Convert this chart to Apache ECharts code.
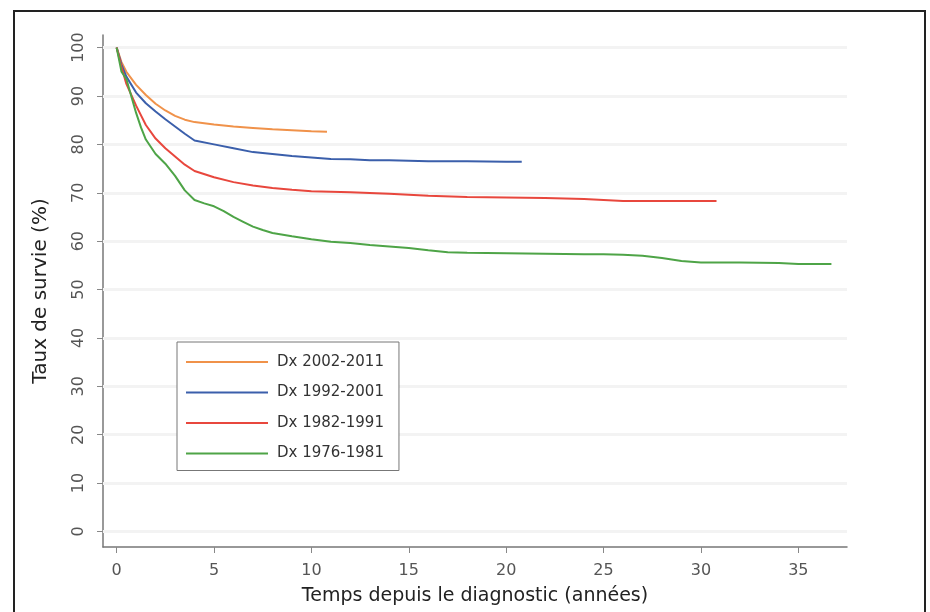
<!DOCTYPE html>
<html>
<head>
<meta charset="utf-8">
<script src="https://cdn.jsdelivr.net/npm/echarts@6/dist/echarts.min.js"></script>
<style>
  html, body { margin: 0; padding: 0; background: #fff; }
  #chart { width: 930px; height: 612px; }
</style>
</head>
<body>
<div id="chart"></div>
<script>
// Courbes de survie par période de diagnostic
const xTicks = [0, 5, 10, 15, 20, 25, 30, 35]
const yTicks = [0, 10, 20, 30, 40, 50, 60, 70, 80, 90, 100]

const t2002 = [0, 0.25, 0.5, 1, 1.5, 2, 2.5, 3, 3.5, 4, 5, 6, 7, 8, 9, 10, 10.8]
const v2002 = [100, 97, 95, 92.3, 90.2, 88.4, 87, 85.9, 85.1, 84.6, 84.1, 83.7, 83.4, 83.1, 82.9, 82.7, 82.6]

const t1992 = [0, 0.25, 0.5, 1, 1.5, 2, 2.5, 3, 3.5, 4, 5, 6, 7, 8, 9, 10, 11, 12, 13, 14, 15, 16, 18, 20, 20.8]
const v1992 = [100, 96.5, 94, 90.7, 88.5, 86.8, 85.2, 83.7, 82.2, 80.8, 80.0, 79.2, 78.4, 78.0, 77.6, 77.3, 77.0, 76.9, 76.7, 76.7, 76.6, 76.5, 76.5, 76.4, 76.4]

const t1982 = [0, 0.25, 0.5, 1, 1.5, 2, 2.5, 3, 3.5, 4, 5, 6, 7, 8, 9, 10, 12, 14, 16, 18, 20, 22, 24, 25, 26, 28, 30, 30.8]
const v1982 = [100, 96, 92.5, 88, 84, 81.2, 79.2, 77.5, 75.8, 74.5, 73.2, 72.2, 71.5, 71.0, 70.6, 70.3, 70.1, 69.8, 69.4, 69.1, 69.0, 68.9, 68.7, 68.5, 68.3, 68.3, 68.3, 68.3]

const t1976 = [0, 0.25, 0.5, 0.75, 1, 1.25, 1.5, 2, 2.5, 3, 3.5, 4, 4.5, 5, 5.5, 6, 6.5, 7, 7.5, 8, 9, 10, 11, 12, 13, 14, 15, 16, 17, 18, 20, 22, 24, 25, 26, 27, 28, 29, 30, 32, 34, 35, 36.7]
const v1976 = [100, 95, 93.5, 90, 86.5, 83.5, 81, 78, 76, 73.5, 70.5, 68.5, 67.8, 67.2, 66.2, 65, 64, 63, 62.3, 61.7, 61, 60.4, 59.9, 59.6, 59.2, 58.9, 58.6, 58.1, 57.7, 57.6, 57.5, 57.4, 57.3, 57.3, 57.2, 57.0, 56.5, 55.9, 55.6, 55.6, 55.5, 55.3, 55.3]

const zip = (t, v) => t.map((x, i) => [x, v[i]])

const curve = (name, t, v, color) => ({
    name: name,
    type: 'line',
    data: zip(t, v),
    symbol: 'none',
    z: 5,
    lineStyle: { color: color, width: 2 },
    itemStyle: { color: color }
})

const chart = echarts.init(document.getElementById('chart'))
const option = {
    animation: false,
    backgroundColor: '#fff',
    graphic: [{
        type: 'rect',
        shape: { x: 14, y: 11, width: 911, height: 640 },
        style: { fill: 'none', stroke: '#222', lineWidth: 2 },
        z: 0
    }],
    grid: { left: 103, right: 83, top: 35, bottom: 65 },
    legend: {
        orient: 'vertical',
        left: 177,
        top: 342,
        icon: 'rect',
        itemWidth: 82,
        itemHeight: 2,
        itemGap: 14.5,
        padding: [12, 15, 9, 9],
        borderColor: '#777',
        borderWidth: 1,
        backgroundColor: '#fff',
        textStyle: {
            fontFamily: 'DejaVu Sans',
            fontSize: 15,
            lineHeight: 16,
            color: '#333',
            padding: [0, 0, 0, 4]
        },
        data: ['Dx 2002-2011', 'Dx 1992-2001', 'Dx 1982-1991', 'Dx 1976-1981'],
        z: 10
    },
    xAxis: {
        type: 'value',
        min: -0.7,
        max: 37.5,
        name: 'Temps depuis le diagnostic (années)',
        nameLocation: 'middle',
        nameGap: 40,
        nameTextStyle: { fontFamily: 'DejaVu Sans', fontSize: 19, color: '#222' },
        axisLine: { onZero: false, lineStyle: { color: '#777', width: 1.5 } },
        axisTick: { customValues: xTicks, length: 6, lineStyle: { color: '#888' } },
        axisLabel: {
            customValues: xTicks,
            margin: 16,
            fontFamily: 'DejaVu Sans',
            fontSize: 16,
            color: '#555'
        },
        splitLine: { show: false }
    },
    yAxis: {
        type: 'value',
        min: -3.2,
        max: 102.6,
        name: 'Taux de survie (%)',
        nameLocation: 'middle',
        nameGap: 52,
        nameTextStyle: { fontFamily: 'DejaVu Sans', fontSize: 20, color: '#222' },
        axisLine: { show: true, onZero: false, lineStyle: { color: '#777', width: 1.5 } },
        axisTick: { show: true, customValues: yTicks, length: 6, lineStyle: { color: '#888' } },
        axisLabel: {
            customValues: yTicks,
            rotate: 90,
            margin: 16,
            fontFamily: 'DejaVu Sans',
            fontSize: 16,
            color: '#555'
        },
        splitLine: { show: false }
    },
    series: [
        curve('Dx 2002-2011', t2002, v2002, '#f0924a'),
        curve('Dx 1992-2001', t1992, v1992, '#3b5fab'),
        curve('Dx 1982-1991', t1982, v1982, '#e8473d'),
        curve('Dx 1976-1981', t1976, v1976, '#4ea447'),
        {
            // lignes de grille discrètes
            name: 'grid',
            type: 'line',
            data: [],
            z: 1,
            markLine: {
                silent: true,
                symbol: 'none',
                label: { show: false },
                lineStyle: { color: '#f3f3f3', width: 3, type: 'solid' },
                data: yTicks.map(v => ({ yAxis: v }))
            }
        }
    ]
}

chart.setOption(option)
</script>
</body>
</html>
